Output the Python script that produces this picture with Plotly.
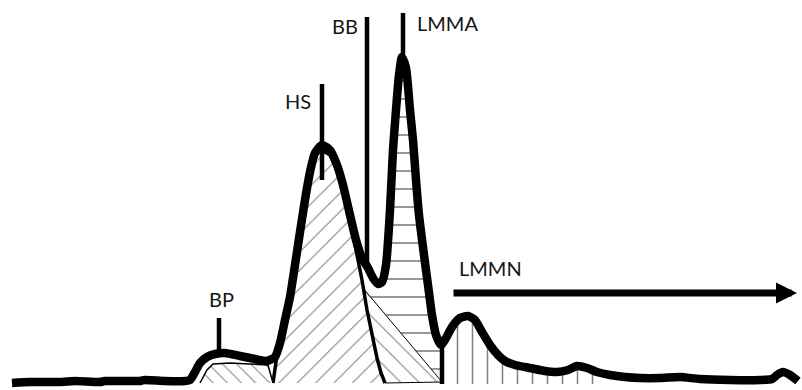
import plotly.graph_objects as go

# ---- main chromatogram trace (retention position, intensity above baseline) ----
time = [12, 30, 60, 75, 100, 105, 140, 145, 165, 185, 190, 195, 200, 207, 215, 225, 240, 255, 267,
        275, 280, 285, 290, 295, 300, 305, 310, 315, 322, 330, 337, 343, 350, 356, 362, 368, 373,
        378, 382, 386, 390, 393, 396, 399, 402, 406, 410, 413, 416, 419, 424, 428, 432, 436, 441,
        446, 452, 460, 468, 475, 482, 490, 498, 505, 515, 530, 545, 557, 568, 577, 587, 597, 610,
        625, 640, 660, 680, 700, 730, 760, 772, 777, 783, 790, 798]
signal = [1, 2, 2, 3, 2, 3, 3, 4, 3, 3, 4, 12, 21, 27, 30, 31, 28, 25, 23,
          27, 41, 64, 87, 119, 152, 184, 212, 231, 239, 234, 219, 199, 169, 144, 126, 116, 106,
          100, 102, 119, 174, 234, 274, 309, 327, 316, 274, 244, 204, 169, 129, 99, 69, 49, 39,
          46, 57, 66, 68, 64, 52, 39, 29, 23, 19, 16, 13, 12, 14, 18, 16, 12, 9,
          7, 6, 6, 7, 5, 4, 4, 5, 9, 12, 9, 3]

# ---- deconvoluted components ----
bp_t = [200, 207, 213, 230, 250, 268, 273]
bp_s = [1, 14, 20, 21, 20, 19, 1]

hs_t = [273, 277, 283, 290, 295, 300, 305, 310, 315, 322, 330, 337, 343, 350, 356, 362, 367, 372, 377, 381, 385]
hs_s = [1, 29, 54, 87, 119, 152, 184, 212, 229, 234, 229, 214, 194, 164, 134, 104, 74, 49, 26, 11, 1]

bb_t = [363, 442, 385, 381, 377, 372, 367, 363]
bb_s = [96, 2, 1, 11, 26, 49, 74, 96]

lmma_t = [378, 382, 386, 390, 393, 396, 399, 402, 406, 410, 413, 416, 419, 424, 428, 432, 436, 440, 440, 370, 378]
lmma_s = [100, 102, 119, 174, 234, 274, 309, 327, 316, 274, 244, 204, 169, 129, 99, 69, 49, 40, 5, 88, 100]

lmmn_t = [443, 443, 446, 452, 460, 468, 475, 482, 490, 498, 505, 515, 530, 545, 557, 568, 577, 587, 597, 600]
lmmn_s = [0, 39, 46, 57, 66, 68, 64, 52, 39, 29, 23, 19, 16, 13, 12, 14, 18, 16, 12, 0]

# ---- peak marker lines (position, top, bottom) ----
marker_t = [219, 322, 367, 403, 442]
marker_top = [66, 300, 367, 371, 39]
marker_bot = [30, 204, 114, 324, 0]

# ---- labels ----
label_text = ["BP", "HS", "BB", "LMMA", "LMMN"]
label_t = [221, 298, 345, 447, 490]
label_s = [85, 283, 358, 361, 116]

# ---- arrow (LMMN region) ----
arrow_tail_t, arrow_head_t, arrow_s = 452, 797, 91

fig = go.Figure()


def component(t, s, shape, size, sol, lw):
    fig.add_trace(go.Scatter(
        x=t, y=s, mode="lines", fill="toself", fillcolor="white",
        fillpattern=dict(shape=shape, size=size, solidity=sol, fgcolor="black", bgcolor="white"),
        line=dict(color="black", width=lw), hoverinfo="skip", showlegend=False))


component(lmmn_t, lmmn_s, "|", 15, 0.1, 0)
component(lmma_t, lmma_s, "-", 18, 0.09, 0)
component(bb_t, bb_s, "\\", 13, 0.08, 1)
component(hs_t, hs_s, "/", 13, 0.08, 3.5)
component(bp_t, bp_s, "\\", 10, 0.1, 1.5)

# main thick trace
fig.add_trace(go.Scatter(x=time, y=signal, mode="lines",
                         line=dict(color="black", width=8.5, shape="spline", smoothing=0.6),
                         hoverinfo="skip", showlegend=False))

# marker lines
mx, my = [], []
for t, a, b in zip(marker_t, marker_top, marker_bot):
    mx += [t, t, None]
    my += [a, b, None]
fig.add_trace(go.Scatter(x=mx, y=my, mode="lines", line=dict(color="black", width=4.5),
                         hoverinfo="skip", showlegend=False))

for txt, t, s in zip(label_text, label_t, label_s):
    fig.add_annotation(x=t, y=s, text=txt, showarrow=False, xref="x", yref="y",
                       font=dict(family="Lato, Carlito, Calibri, sans-serif", size=20, color="#151515"))

fig.add_annotation(x=arrow_head_t, y=arrow_s, ax=arrow_tail_t, ay=arrow_s, axref="x", ayref="y",
                   xref="x", yref="y", text="", showarrow=True, arrowhead=2, arrowsize=0.6,
                   arrowwidth=7, arrowcolor="black", standoff=0)

fig.update_layout(
    width=802, height=390, autosize=False,
    margin=dict(l=0, r=0, t=0, b=0),
    paper_bgcolor="white", plot_bgcolor="white",
    xaxis=dict(range=[0, 802], visible=False, fixedrange=True),
    yaxis=dict(range=[-6, 384], visible=False, fixedrange=True),
)

fig.write_html("out.html", config={"displayModeBar": False},
               post_script="document.body.style.margin='0';document.body.style.overflow='hidden';")
